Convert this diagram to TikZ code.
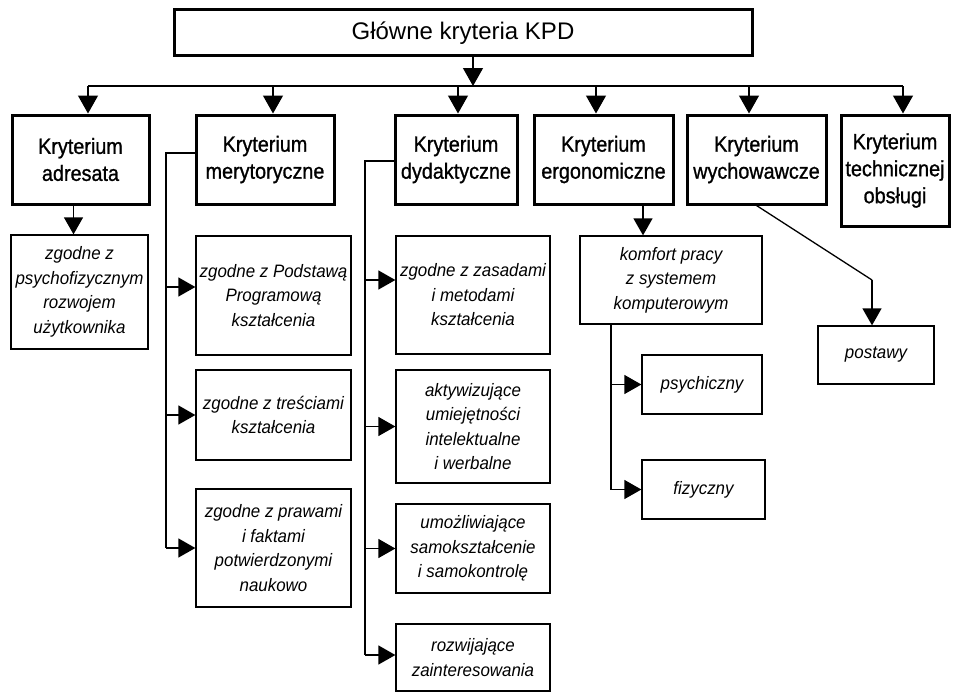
\documentclass[tikz,border=0pt]{standalone}
\usepackage{fontspec}
\setmainfont{Liberation Sans}
\newfontfamily\headfont{Liberation Sans}[FakeStretch=0.9, FakeBold=1]
\newfontfamily\subfont{Liberation Sans}[FakeStretch=0.94]
\usetikzlibrary{arrows.meta}
\begin{document}
\begin{tikzpicture}[x=1pt,y=-1pt,
  every node/.style={inner sep=0pt, align=center},
  titlebox/.style={draw, line width=3pt, font=\fontsize{24}{28}\selectfont},
  critbox/.style={draw, line width=3pt, font=\headfont\fontsize{22}{27}\selectfont},
  subbox/.style={draw, line width=1.3pt, font=\subfont\fontsize{18}{24.5}\selectfont\itshape},
  conn/.style={line width=1.3pt},
  busline/.style={line width=2pt},
  arr/.style={line width=1.3pt, -{Triangle[length=18pt,width=20pt]}},
  sarr/.style={line width=1.3pt, -{Triangle[length=17pt,width=19pt]}}]
\useasboundingbox (0,0) rectangle (960,693);
\fill[white] (0,0) rectangle (960,693);

% title
\node[titlebox, minimum width=578pt, minimum height=46pt] (title) at (463,33) {Główne kryteria KPD};

% main criteria
\node[critbox, minimum width=137pt, minimum height=89pt] (adr) at (80.5,159.5) {Kryterium\\adresata};
\node[critbox, minimum width=138pt, minimum height=89pt] (mer) at (265,159.5) {Kryterium\\merytoryczne};
\node[critbox, minimum width=122pt, minimum height=89pt] (dyd) at (456,159.5) {Kryterium\\dydaktyczne};
\node[critbox, minimum width=139pt, minimum height=89pt] (erg) at (603.5,159.5) {Kryterium\\ergonomiczne};
\node[critbox, minimum width=139pt, minimum height=89pt] (wych) at (756.5,159.5) {Kryterium\\wychowawcze};
\node[critbox, minimum width=108pt, minimum height=111pt] (tech) at (895,170.5) {Kryterium\\technicznej\\obsługi};

% bus
\coordinate (b1) at (88,86);
\coordinate (b2) at (273,86);
\coordinate (b3) at (458,86);
\coordinate (b4) at (596,86);
\coordinate (b5) at (749,86);
\coordinate (b6) at (903,86);
\draw[busline] (b1) -- (b6);
\coordinate (tdown) at ([xshift=10pt]title.south);
\draw[arr] (tdown) -- (tdown |- b1);
\foreach \b/\n in {b1/adr,b2/mer,b3/dyd,b4/erg,b5/wych,b6/tech}
  \draw[arr] (\b) -- (\b |- \n.north);

% adresata
\node[subbox, minimum width=137pt, minimum height=114pt] (a1) at (79.5,292) {zgodne z\\psychofizycznym\\rozwojem\\użytkownika};
\coordinate (adown) at ([xshift=-7pt]adr.south);
\draw[sarr] (adown) -- (adown |- a1.north);

% merytoryczne
\node[subbox, minimum width=155pt, minimum height=119pt] (m1) at (273.5,295.5) {zgodne z Podstawą\\Programową\\kształcenia};
\node[subbox, minimum width=155pt, minimum height=90pt] (m2) at (273.5,415) {zgodne z treściami\\kształcenia};
\node[subbox, minimum width=155pt, minimum height=118pt] (m3) at (273.5,548) {zgodne z prawami\\i faktami\\potwierdzonymi\\naukowo};
\coordinate (mv) at (166,153);
\coordinate (m1in) at ([yshift=8.5pt]m1.west);
\draw[conn] (mv -| mer.west) -- (mv) -- (mv |- m3.west);
\draw[sarr] (mv |- m1in) -- (m1in);
\draw[sarr] (mv |- m2.west) -- (m2.west);
\draw[sarr] (mv |- m3.west) -- (m3.west);

% dydaktyczne
\node[subbox, minimum width=154pt, minimum height=118pt] (d1) at (473,295) {zgodne z zasadami\\i metodami\\kształcenia};
\node[subbox, minimum width=154pt, minimum height=113pt] (d2) at (473,426.5) {aktywizujące\\umiejętności\\intelektualne\\i werbalne};
\node[subbox, minimum width=154pt, minimum height=89pt] (d3) at (473,548.5) {umożliwiające\\samokształcenie\\i samokontrolę};
\node[subbox, minimum width=154pt, minimum height=67pt] (d4) at (473,657.5) {rozwijające\\zainteresowania};
\coordinate (dv) at (365,161);
\coordinate (d1in) at ([yshift=15pt]d1.west);
\coordinate (d4in) at ([yshift=2.5pt]d4.west);
\draw[conn] (dv -| dyd.west) -- (dv) -- (dv |- d4in);
\draw[sarr] (dv |- d1in) -- (d1in);
\draw[sarr] (dv |- d2.west) -- (d2.west);
\draw[sarr] (dv |- d3.west) -- (d3.west);
\draw[sarr] (dv |- d4in) -- (d4in);

% ergonomiczne
\node[subbox, minimum width=182pt, minimum height=88pt] (kom) at (671,280) {komfort pracy\\z systemem\\komputerowym};
\node[subbox, minimum width=120pt, minimum height=59pt] (p1) at (702,384.5) {psychiczny};
\node[subbox, minimum width=123pt, minimum height=59pt] (p2) at (703.5,489.5) {fizyczny};
\coordinate (edown) at ([xshift=39.5pt]erg.south);
\draw[sarr] (edown) -- (edown |- kom.north);
\coordinate (kv) at ([xshift=-60pt]kom.south);
\draw[conn] (kv) -- (kv |- p2.west);
\draw[sarr] (kv |- p1.west) -- (p1.west);
\draw[sarr] (kv |- p2.west) -- (p2.west);

% wychowawcze
\node[subbox, minimum width=116pt, minimum height=58pt] (post) at (876,355) {postawy};
\coordinate (wb) at (872,280);
\draw[conn] (wych.south) -- (wb);
\draw[sarr] (wb) -- (wb |- post.north);
\end{tikzpicture}
\end{document}
